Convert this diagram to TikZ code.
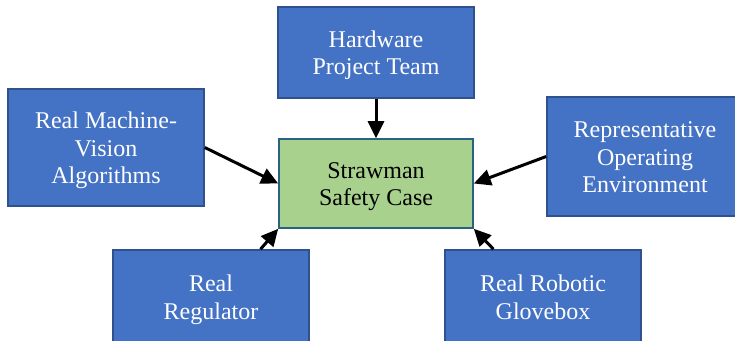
\documentclass[tikz,border=0pt]{standalone}
\usepackage{fontspec}
\setmainfont{Liberation Serif}
\usetikzlibrary{arrows.meta}
\definecolor{boxblue}{HTML}{4472C4}
\definecolor{boxedge}{HTML}{2F528F}
\definecolor{casegreen}{HTML}{A9D18E}
\newcommand{\boxtext}[1]{\rule{0pt}{23pt}#1\rule[-6pt]{0pt}{6pt}}
\tikzset{
  inbox/.style={draw=boxedge, line width=1.6pt, fill=boxblue, text=white,
    minimum width=196pt, align=center, inner sep=0pt,
    font=\fontsize{24}{27.8}\selectfont},
  casebox/.style={inbox, fill=casegreen, text=black, draw=boxedge!90!green},
  feed/.style={line width=3pt, -{Triangle[length=17pt, width=16pt]}}
}
\begin{document}
\begin{tikzpicture}[x=1pt, y=-1pt]
  %%%%% BOXES %%%%%
  \useasboundingbox (0,0) rectangle (735,340);

  \node[casebox, minimum width=194pt, minimum height=89pt] (case) at (376, 183.5) {\boxtext{Strawman\\Safety Case}};

  \node[inbox, minimum height=91pt] (team) at (376, 52.5) {\boxtext{Hardware\\Project Team}};
  \node[inbox, minimum height=117pt] (vision) at (106, 147.5) {\boxtext{Real Machine-\\Vision\\Algorithms}};
  \node[inbox, minimum height=119pt] (env) at (645, 156.5) {\boxtext{Representative\\Operating\\Environment}};
  \node[inbox, minimum height=94pt] (reg) at (211, 297) {\boxtext{Real\\Regulator}};
  \node[inbox, minimum height=94pt] (glove) at (543, 297) {\boxtext{Real Robotic\\Glovebox}};

  %%%%% ARROWS %%%%%
  \draw[feed] (team.south) -- (case.north);
  \draw[feed] (vision.east) -- (case.west);
  \draw[feed] (env.west) -- (case.east);
  \draw[feed] (reg.44) -- (case.south west);
  \draw[feed] (glove.136) -- (case.south east);
\end{tikzpicture}
\end{document}
